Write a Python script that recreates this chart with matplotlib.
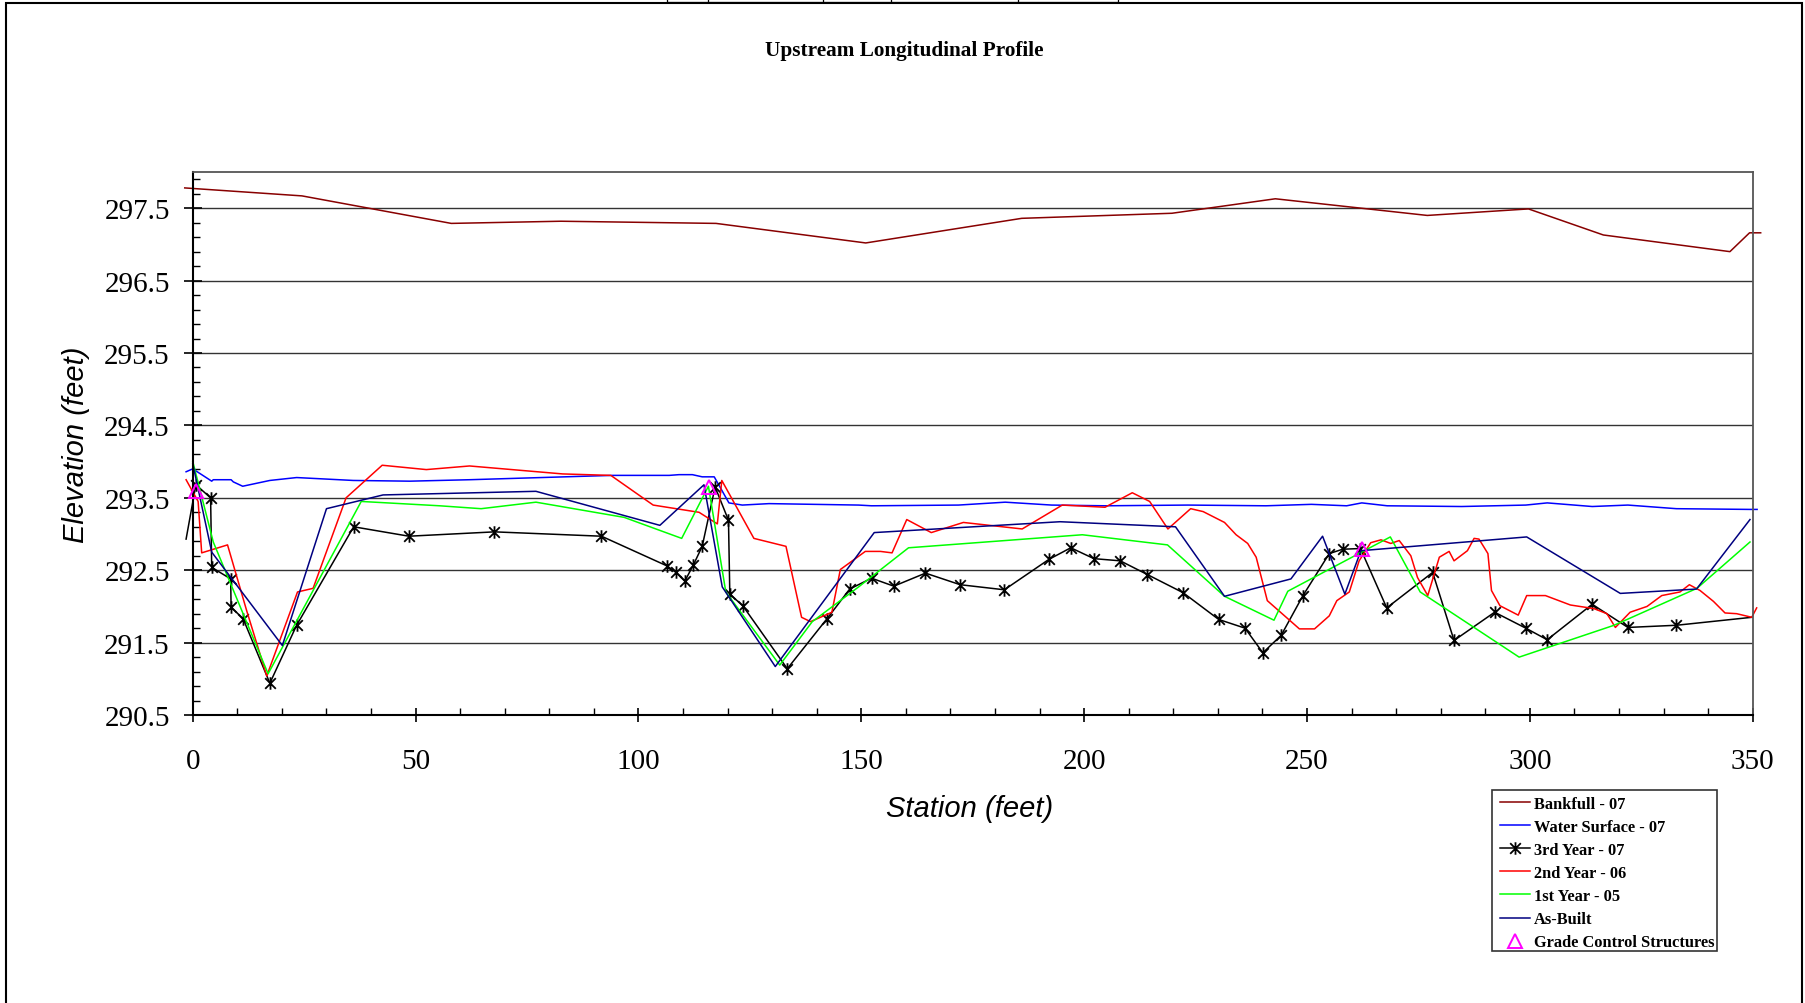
import matplotlib
matplotlib.use("Agg")
import matplotlib.pyplot as plt
import numpy as np
from matplotlib.path import Path
from matplotlib.patches import Rectangle
from matplotlib.lines import Line2D
from matplotlib.ticker import FixedLocator, MultipleLocator, FormatStrFormatter

# --- data (station ft, elevation ft) ---
bank_x = [-1.8, 24.5, 58, 82.6, 117.4, 151, 186, 219.7, 242.9, 277, 299.7, 316.5, 344.9, 349.3, 351.8]
bank_y = [297.78, 297.67, 297.29, 297.32, 297.29, 297.02, 297.36, 297.43, 297.63, 297.40, 297.49,
          297.13, 296.90, 297.16, 297.16]

ws_x = [-1.5, 0, 4.25, 4.6, 8.6, 9.1, 11.2, 17.3, 23.3, 36, 48.7, 62.1, 94.2, 106.9, 109.1, 112.1,
        114.3, 117, 120.3, 123.3, 129.3, 149.4, 152.3, 171.8, 182.3, 192.7, 204.7, 223.3, 240.8,
        251, 258.9, 262.3, 268, 284.7, 299.1, 303.9, 314.0, 322, 332.9, 349.4, 351]
ws_y = [293.86, 293.90, 293.73, 293.75, 293.75, 293.72, 293.66, 293.74, 293.78, 293.74, 293.73,
        293.75, 293.81, 293.81, 293.82, 293.82, 293.79, 293.79, 293.43, 293.40, 293.42, 293.40,
        293.39, 293.40, 293.44, 293.40, 293.39, 293.40, 293.39, 293.41, 293.39, 293.43, 293.39,
        293.38, 293.40, 293.43, 293.38, 293.40, 293.35, 293.34, 293.34]

yr3_x = [-1.5, 0.7, 4.0, 4.25, 8.5, 8.6, 11.3, 17.3, 23.3, 36.1, 48.5, 67.7, 91.7, 106.4, 108.4,
         110.4, 112.3, 114.3, 117.2, 120.2, 120.5, 123.4, 133.4, 142.3, 147.4, 152.3, 157.3, 164.4,
         172.2, 182.1, 192.1, 197.0, 202.2, 208.1, 214.2, 222.2, 230.2, 236.1, 240.1, 244.2, 249.1,
         255.0, 258.0, 262.0, 267.9, 278.2, 283.0, 292.1, 299.1, 303.9, 314.0, 322.0, 332.9, 349.8]
yr3_y = [292.93, 293.68, 293.50, 292.54, 292.38, 291.99, 291.83, 290.94, 291.74, 293.10, 292.97,
         293.03, 292.97, 292.56, 292.47, 292.35, 292.57, 292.83, 293.65, 293.19, 292.17, 292.01,
         291.14, 291.83, 292.24, 292.39, 292.28, 292.46, 292.30, 292.23, 292.65, 292.81, 292.66,
         292.63, 292.44, 292.19, 291.82, 291.70, 291.36, 291.60, 292.15, 292.73, 292.79, 292.80,
         291.98, 292.47, 291.53, 291.92, 291.70, 291.54, 292.03, 291.71, 291.74, 291.85]

yr2_x = [-1.5, 1.2, 2.0, 7.8, 12.1, 16.6, 23.5, 27, 34.4, 42.5, 52.4, 62.1, 83, 93.8, 103.3, 113.6,
         117.7, 118.7, 125.9, 133.1, 136.6, 138.6, 143.4, 145.3, 150.9, 154.3, 156.9, 160.2, 165.7,
         172.9, 186.1, 195.1, 204.7, 210.8, 214.7, 218.8, 223.9, 226.7, 231.5, 234.1, 236.7, 238.6,
         241.1, 248.3, 251.7, 255.0, 256.7, 259.5, 261.7, 264.3, 266.6, 268.8, 270.7, 273.3, 274.8,
         277.1, 279.7, 281.9, 283.0, 286.0, 287.5, 288.6, 290.6, 291.4, 293.3, 297.4, 299.3, 303.5,
         309.1, 314.4, 317.3, 319.2, 322.5, 326.3, 329.6, 333.7, 335.8, 338.2, 341.2, 343.8, 346.4,
         349.8, 350.9]
yr2_y = [293.75, 293.45, 292.74, 292.85, 291.94, 291.04, 292.20, 292.25, 293.50, 293.95, 293.89,
         293.94, 293.83, 293.81, 293.40, 293.30, 293.14, 293.74, 292.94, 292.83, 291.85, 291.79,
         291.92, 292.51, 292.76, 292.76, 292.74, 293.20, 293.02, 293.16, 293.07, 293.40, 293.37,
         293.57, 293.45, 293.07, 293.35, 293.31, 293.16, 292.99, 292.87, 292.68, 292.08, 291.69,
         291.69, 291.87, 292.08, 292.20, 292.63, 292.88, 292.92, 292.87, 292.91, 292.70, 292.40,
         292.15, 292.68, 292.76, 292.63, 292.77, 292.94, 292.93, 292.73, 292.22, 292.01, 291.88,
         292.15, 292.15, 292.02, 291.97, 291.90, 291.71, 291.92, 292.00, 292.15, 292.20, 292.30,
         292.22, 292.07, 291.91, 291.90, 291.85, 291.98]

yr1_x = [0, 4.6, 16.9, 37.8, 55.4, 64.7, 77.0, 96.8, 109.7, 115.7, 119.6, 131.7, 139, 149.4, 160.6,
         199.6, 218.7, 231.5, 242.6, 245.7, 268.7, 275.4, 297.6, 318.9, 337.5, 349.4]
yr1_y = [294.0, 292.89, 291.07, 293.45, 293.39, 293.35, 293.44, 293.23, 292.94, 293.66, 292.20,
         291.19, 291.79, 292.27, 292.81, 292.99, 292.85, 292.14, 291.81, 292.21, 292.96, 292.20,
         291.30, 291.74, 292.25, 292.89]

ab_x = [0, 4.25, 20.1, 30, 42.7, 77, 104.8, 114.7, 118.8, 130.7, 152.9, 194.6, 220.5, 231.5, 246.4,
        253.5, 258.5, 262.1, 299.3, 320.3, 337.4, 349.4]
ab_y = [293.97, 292.75, 291.46, 293.35, 293.54, 293.59, 293.12, 293.68, 292.27, 291.17, 293.02,
        293.17, 293.10, 292.14, 292.38, 292.97, 292.17, 292.77, 292.96, 292.18, 292.24, 293.20]

gcs_x = [0.74, 115.8, 262.3]
gcs_y = [293.6, 293.65, 292.79]

serif = "Liberation Serif"
sans = "Liberation Sans"

# asterisk marker like the spreadsheet one: an X with a vertical bar
star = Path([(0, -1), (0, 1), (-0.85, -0.85), (0.85, 0.85), (-0.85, 0.85), (0.85, -0.85)],
            [Path.MOVETO, Path.LINETO] * 3)

fig = plt.figure(figsize=(18.05, 10.04), dpi=100)
ax = fig.add_axes([0.1068, 0.2868, 0.971 - 0.1068, 0.8277 - 0.2868])

lw = 1.1
ax.plot(bank_x, bank_y, color="#880000", lw=lw, clip_on=False, label="Bankfull - 07")
ax.plot(ws_x, ws_y, color="#0000ff", lw=lw, clip_on=False, label="Water Surface - 07")
ax.plot(yr3_x, yr3_y, color="black", lw=lw, marker=star, markersize=9, mew=1.3, mfc="none",
        mec="black", markevery=slice(1, len(yr3_x) - 1), clip_on=False, label="3rd Year - 07")
ax.plot(yr2_x, yr2_y, color="#ff0000", lw=lw, clip_on=False, label="2nd Year - 06")
ax.plot(yr1_x, yr1_y, color="#00ff00", lw=lw, clip_on=False, label="1st Year - 05")
ax.plot(ab_x, ab_y, color="#000080", lw=lw, clip_on=False, label="As-Built")
ax.plot(gcs_x, gcs_y, ls="none", marker="^", markersize=10, mfc="none", mec="#ff00ff", mew=1.4,
        clip_on=False, zorder=5, label="Grade Control Structures")

ax.set_xlim(0, 350)
ax.set_ylim(290.5, 298.0)
ax.xaxis.set_major_locator(MultipleLocator(50))
ax.xaxis.set_minor_locator(MultipleLocator(10))
ax.yaxis.set_major_locator(FixedLocator(np.arange(290.5, 298.0, 1.0)))
ax.yaxis.set_minor_locator(FixedLocator(np.arange(290.5, 298.01, 0.2)))
ax.yaxis.set_major_formatter(FormatStrFormatter("%.1f"))

ax.yaxis.grid(True, which="major", color="#333333", lw=1.0)
ax.set_axisbelow(True)

ax.tick_params(axis="y", which="major", direction="inout", length=13, width=1.2, pad=10)
ax.tick_params(axis="y", which="minor", direction="in", length=5, width=1.0)
ax.tick_params(axis="x", which="major", direction="inout", length=10, width=1.2, pad=19)
ax.tick_params(axis="x", which="minor", direction="in", length=5, width=1.0)
for lab in ax.get_xticklabels() + ax.get_yticklabels():
    lab.set_fontfamily(serif)
    lab.set_fontsize(21)

for side in ["left", "bottom"]:
    ax.spines[side].set_linewidth(1.5)
    ax.spines[side].set_color("black")
for side in ["top", "right"]:
    ax.spines[side].set_linewidth(1.3)
    ax.spines[side].set_color("#555555")

fig.text(904 / 1805, 1 - 51 / 1004, "Upstream Longitudinal Profile", ha="center", va="center",
         fontfamily=serif, fontweight="bold", fontsize=15.3)
fig.text(76 / 1805, 1 - 445 / 1004, "Elevation (feet)", rotation=90, ha="center", va="center",
         fontfamily=sans, fontstyle="italic", fontsize=21)
fig.text(970 / 1805, 1 - 809 / 1004, "Station (feet)", ha="center", va="center",
         fontfamily=sans, fontstyle="italic", fontsize=21)

handles, labels = ax.get_legend_handles_labels()
leg = fig.legend(handles, labels, loc="upper left", bbox_to_anchor=(1500 / 1805, 1 - 797 / 1004),
                 frameon=False, borderpad=0, borderaxespad=0, handlelength=1.8,
                 handletextpad=0.25, labelspacing=0.43, numpoints=1,
                 prop={"family": serif, "weight": "bold", "size": 11.8})

# legend frame
fig.add_artist(Rectangle((1491.7 / 1805, 1 - 951.7 / 1004), (1717.3 - 1491.7) / 1805,
                         (951.7 - 791) / 1004, transform=fig.transFigure, fill=False,
                         ec="#333333", lw=1.2))

# outer chart border
fig.add_artist(Rectangle((6 / 1805, -0.05), (1802 - 6) / 1805, 0.05 + 1 - 4 / 1004,
                         transform=fig.transFigure, fill=False, ec="black", lw=1.5))

# piece of the spreadsheet table peeking in at the top
fig.add_artist(Rectangle((666.7 / 1805, 1 - 2.5 / 1004), (1118.3 - 666.7) / 1805, 0.01,
                         transform=fig.transFigure, fill=False, ec="black", lw=0.9))
for xp in [708.3, 823.3, 890.7, 1017.7]:
    fig.add_artist(Line2D([xp / 1805, xp / 1805], [1 - 2.5 / 1004, 1.0],
                          transform=fig.transFigure, color="black", lw=0.9))

fig.savefig("out.png", dpi=100)
